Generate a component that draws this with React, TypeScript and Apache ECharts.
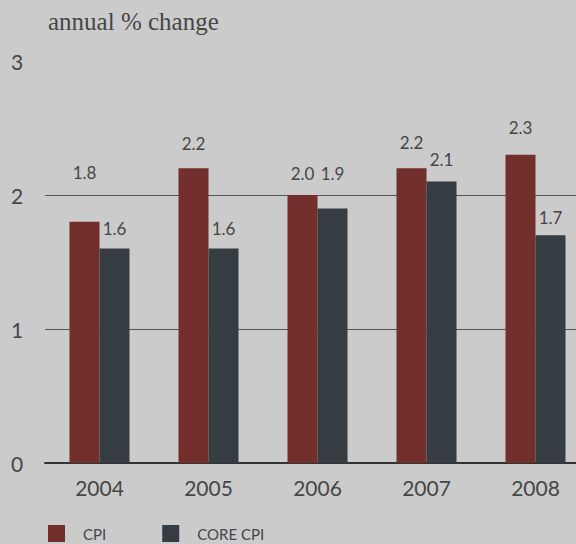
import React, { useEffect, useRef } from "react";
import * as echarts from "echarts";

const years = ["2004", "2005", "2006", "2007", "2008"];
const cpi = [1.8, 2.2, 2.0, 2.2, 2.3];
const coreCpi = [1.6, 1.6, 1.9, 2.1, 1.7];
const yTicks = [0, 1, 2, 3];

// label lift above each bar (style, not data)
const cpiLabelGap = [41, 16, 13, 17, 19];
const coreLabelGap = [12, 12, 26, 14, 9];

const SANS = "Lato, 'Open Sans', sans-serif";
const TXT = "#464646";

export default function App() {
  const ref = useRef<HTMLDivElement>(null);
  useEffect(() => {
    if (!ref.current) return;
    const chart = echarts.init(ref.current, null, { renderer: "svg" });
    const labelBase = {
      show: true,
      position: "top",
      color: TXT,
      fontFamily: SANS,
      fontSize: 17,
    };
    chart.setOption({
      animation: false,
      backgroundColor: "#cbcbcb",
      title: {
        text: "annual % change",
        left: 43,
        top: 4,
        textStyle: {
          fontFamily: "'Liberation Serif', serif",
          fontWeight: "normal",
          fontSize: 25,
          color: TXT,
        },
      },
      legend: {
        left: 43,
        top: 520,
        icon: "rect",
        itemWidth: 17,
        itemHeight: 17,
        itemGap: 56,
        textStyle: {
          fontFamily: SANS,
          fontSize: 15,
          color: TXT,
          padding: [0, 0, 0, 13],
        },
        data: ["CPI", "CORE CPI"],
      },
      grid: { left: 45, right: 0, top: 61, bottom: 81, containLabel: false },
      xAxis: {
        type: "category",
        data: years,
        axisLine: { show: true, lineStyle: { color: "#333", width: 2 } },
        axisTick: { show: false },
        axisLabel: {
          margin: 14,
          fontFamily: SANS,
          fontSize: 21,
          color: TXT,
        },
      },
      yAxis: {
        type: "value",
        min: yTicks[0],
        max: yTicks[yTicks.length - 1],
        interval: 1,
        axisLine: { show: false },
        axisTick: { show: false },
        axisLabel: {
          align: "center",
          margin: 28,
          fontFamily: SANS,
          fontSize: 21,
          color: TXT,
        },
        splitLine: {
          show: true,
          lineStyle: {
            color: ["transparent", "#555", "#555", "transparent"],
            width: 1,
          },
        },
      },
      series: [
        {
          name: "CPI",
          type: "bar",
          barWidth: 30,
          barGap: "0%",
          itemStyle: { color: "#722f2c" },
          data: cpi.map((v, i) => ({
            value: v,
            label: { ...labelBase, distance: cpiLabelGap[i], formatter: v.toFixed(1) },
          })),
        },
        {
          name: "CORE CPI",
          type: "bar",
          barWidth: 30,
          barGap: "0%",
          itemStyle: { color: "#363d42" },
          data: coreCpi.map((v, i) => ({
            value: v,
            label: { ...labelBase, distance: coreLabelGap[i], formatter: v.toFixed(1) },
          })),
        },
      ],
    });
    return () => chart.dispose();
  }, []);
  return (
    <div
      style={{
        position: "fixed",
        left: 0,
        top: 0,
        width: 576,
        height: 544,
        overflow: "hidden",
        background: "#cbcbcb",
      }}
    >
      <div ref={ref} style={{ width: 590, height: 544 }} />
    </div>
  );
}
